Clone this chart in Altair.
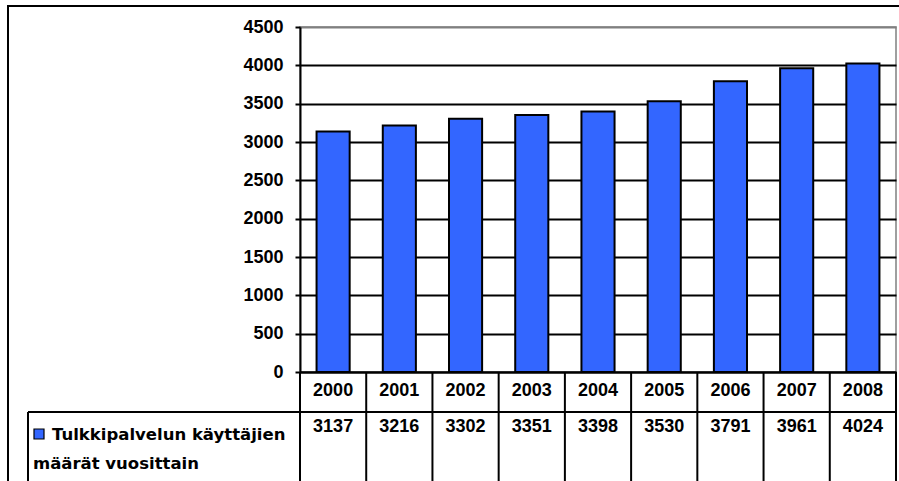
import altair as alt
import pandas as pd

# Interpreter service users per year
years = ["2000", "2001", "2002", "2003", "2004", "2005", "2006", "2007", "2008"]
users = [3137, 3216, 3302, 3351, 3398, 3530, 3791, 3961, 4024]
series_lines = ["Tulkkipalvelun käyttäjien", "määrät vuosittain"]
y_ticks = [0, 500, 1000, 1500, 2000, 2500, 3000, 3500, 4000, 4500]

BLUE = "#3366FF"
FONT = "Liberation Sans"
LEGEND_FONT = "DejaVu Sans"
FS = 18
W, H = 596, 345          # plot area
LEFT, TOP = 300, 27      # plot area offset inside the page
TABLE_BOTTOM = 470       # table lines run off the bottom edge

df = pd.DataFrame({"vuosi": years, "kayttajat": users})
one = pd.DataFrame({"k": [0]})

x_scale = alt.Scale(paddingInner=0, paddingOuter=0)
x_axis = alt.Axis(
    title=None, labelAngle=0, ticks=False, tickSize=0, labelPadding=9,
    labelFont=FONT, labelFontSize=FS, labelFontWeight="bold", labelColor="black",
    domainColor="black", domainWidth=2, grid=False,
)
x_mid = alt.X("vuosi:N", sort=years, scale=x_scale, axis=x_axis)
x_edge = alt.X("vuosi:N", sort=years, scale=x_scale, axis=x_axis, bandPosition=0)

y_enc = alt.Y(
    "kayttajat:Q",
    scale=alt.Scale(domain=[0, 4500], nice=False),
    axis=alt.Axis(
        title=None, values=y_ticks, format="d", tickSize=5, tickColor="black", tickWidth=2,
        labelPadding=12, labelFont=FONT, labelFontSize=FS, labelFontWeight="bold",
        labelColor="black", domainColor="black", domainWidth=2,
        grid=True, gridWidth=2,
        gridColor={"condition": {"test": "datum.value >= 4500", "value": "#808080"},
                   "value": "black"},
    ),
)

# outer chart frame
frame = alt.Chart(one).mark_rect(fillOpacity=0, stroke="black", strokeWidth=2).encode(
    x=alt.value(8 - LEFT), x2=alt.value(W + 200),
    y=alt.value(6 - TOP), y2=alt.value(TABLE_BOTTOM + 100),
)

bars = alt.Chart(df).mark_bar(
    width=alt.RelativeBandSize(0.5), fill=BLUE, stroke="black", strokeWidth=2
).encode(x=x_mid, y=y_enc)

# data table: column separators at each band edge
col_lines = alt.Chart(df).mark_rule(color="black", strokeWidth=2).encode(
    x=x_edge, y=alt.value(H), y2=alt.value(TABLE_BOTTOM)
)
right_line = alt.Chart(one).mark_rule(color="black", strokeWidth=2).encode(
    x=alt.value(W), y=alt.value(H), y2=alt.value(TABLE_BOTTOM)
)
row_line = alt.Chart(one).mark_rule(color="black", strokeWidth=2).encode(
    x=alt.value(28 - LEFT), x2=alt.value(W), y=alt.value(412 - TOP)
)
legend_cell_left = alt.Chart(one).mark_rule(color="black", strokeWidth=2).encode(
    x=alt.value(28 - LEFT), y=alt.value(412 - TOP), y2=alt.value(TABLE_BOTTOM)
)

values_row = alt.Chart(df).mark_text(
    font=FONT, fontSize=FS, fontWeight="bold", color="black", baseline="middle"
).encode(x=x_mid, y=alt.value(427 - TOP), text="kayttajat:Q")

# legend key and series name in the table's first cell
legend_key = alt.Chart(one).mark_square(
    size=100, fill=BLUE, stroke="black", strokeWidth=1.2, opacity=1
).encode(x=alt.value(39 - LEFT), y=alt.value(434 - TOP))
legend_line1 = alt.Chart(one).mark_text(
    font=LEGEND_FONT, fontSize=16.5, fontWeight="bold", color="black",
    align="left", baseline="alphabetic", text=series_lines[0],
).encode(x=alt.value(52 - LEFT), y=alt.value(440 - TOP))
legend_line2 = alt.Chart(one).mark_text(
    font=LEGEND_FONT, fontSize=16.5, fontWeight="bold", color="black",
    align="left", baseline="alphabetic", text=series_lines[1],
).encode(x=alt.value(33 - LEFT), y=alt.value(469 - TOP))

chart = alt.layer(
    frame, bars, col_lines, right_line, row_line, legend_cell_left,
    values_row, legend_key, legend_line1, legend_line2,
).properties(
    width=W, height=H,
    padding={"left": LEFT, "top": TOP, "right": 899 - LEFT - W, "bottom": 481 - TOP - H},
    autosize=alt.AutoSizeParams(type="none"),
    background="white",
).configure_view(stroke="#808080", strokeWidth=1.5)

chart.save("out.html", embed_options={"renderer": "svg", "actions": False})
